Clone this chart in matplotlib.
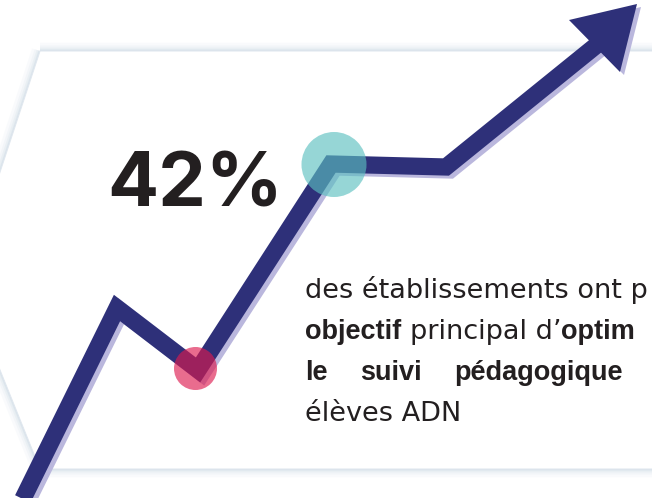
import matplotlib
matplotlib.use("Agg")
import matplotlib.pyplot as plt
from matplotlib.patches import Polygon, Circle
from matplotlib.transforms import offset_copy

W, H = 652, 498

# background panel (hexagon, left tip and right side fall outside the canvas)
panel_x = [40, 720, 720, 40, -36]
panel_y = [51, 51, 469, 469, 281]

# trend arrow centre line, then the arrow head
trend_x = [10, 117, 198, 331, 446, 598]
trend_y = [525, 308, 370, 164, 167, 44]
head_x = [569, 637, 620]
head_y = [20, 4, 72]

# highlighted points on the trend
dot_x = [195.5, 334]
dot_y = [368.5, 164.5]
dot_r = [21.5, 32.5]
dot_colors = ["#dd194e", "#5bc0c0"]

stat_label = "42%"

# paragraph as far as the crop shows it: (text, bold) pieces per line
body_lines = [
    [("des établissements ont p", False)],
    [("objectif", True), (" ", False), ("principal d’", False), ("optim", True)],
    [("le", True), ("suivi", True), ("pédagogique", True)],
    [("élèves ADN", False)],
]
justify_to = [None, None, 318, None]   # px width of spread lines

NAVY = "#2e3079"
SHADOW = "#bab7dd"
INK = "#231f20"
REG_FONT = ["DejaVu Sans"]
BOLD_FONT = ["Liberation Sans", "DejaVu Sans"]


def main():
    fig = plt.figure(figsize=(W / 100, H / 100), dpi=100)
    ax = fig.add_axes([0, 0, 1, 1])
    ax.set_xlim(0, W)
    ax.set_ylim(H, 0)
    ax.axis("off")

    verts = list(zip(panel_x, panel_y))
    # soft glow around the panel
    for lw, a in [(12, 0.10), (8, 0.14), (5, 0.2), (2.5, 0.3), (1, 0.5)]:
        ax.add_patch(Polygon(verts, closed=True, fill=False, edgecolor="#c9d7e3",
                             lw=lw, alpha=a, joinstyle="miter", zorder=1))
    ax.add_patch(Polygon(verts, closed=True, facecolor="white", edgecolor="#e1e8ef",
                         lw=0.8, zorder=1.5))

    # shadow copy of the arrow, shifted down-right
    shadow_tr = offset_copy(ax.transData, fig=fig, x=4, y=-3, units="dots")
    ax.plot(trend_x, trend_y, color=SHADOW, lw=12.4, solid_joinstyle="miter",
            solid_capstyle="butt", transform=shadow_tr, zorder=2)
    ax.add_patch(Polygon(list(zip(head_x, head_y)), closed=True, facecolor=SHADOW,
                         edgecolor="none", transform=shadow_tr, zorder=2))

    ax.plot(trend_x, trend_y, color=NAVY, lw=12.4, solid_joinstyle="miter",
            solid_capstyle="butt", zorder=3)
    ax.add_patch(Polygon(list(zip(head_x, head_y)), closed=True, facecolor=NAVY,
                         edgecolor="none", zorder=3))

    for x, y, r, c in zip(dot_x, dot_y, dot_r, dot_colors):
        ax.add_patch(Circle((x, y), r, facecolor=c, edgecolor="none", alpha=0.64, zorder=4))

    ax.text(107, 206, stat_label, fontsize=54.5, fontweight="bold", color=INK,
            family=["Inter", "Liberation Sans"], ha="left", va="baseline", zorder=5)

    # paragraph, laid out piece by piece
    renderer = fig.canvas.get_renderer()
    size = 19.5
    x0, y0, lead = 305, 298, 41

    def style(bold):
        return dict(fontsize=size, family=BOLD_FONT if bold else REG_FONT,
                    fontweight="bold" if bold else "normal")

    def width(s, bold):
        t = ax.text(0, 0, s, **style(bold))
        w = t.get_window_extent(renderer).width
        t.remove()
        return w

    space = width("x x", False) - width("xx", False)
    for i, pieces in enumerate(body_lines):
        y = y0 + i * lead
        widths = [width(s, b) for s, b in pieces]
        gap = 0
        if justify_to[i]:
            gap = (justify_to[i] - sum(widths)) / (len(pieces) - 1)
        x = x0
        for (s, b), w in zip(pieces, widths):
            if s == " ":
                x += space
                continue
            ax.text(x, y, s, color=INK, ha="left", va="baseline", zorder=5, **style(b))
            x += w + gap

    fig.savefig("out.png", dpi=100)


if __name__ == "__main__":
    main()
